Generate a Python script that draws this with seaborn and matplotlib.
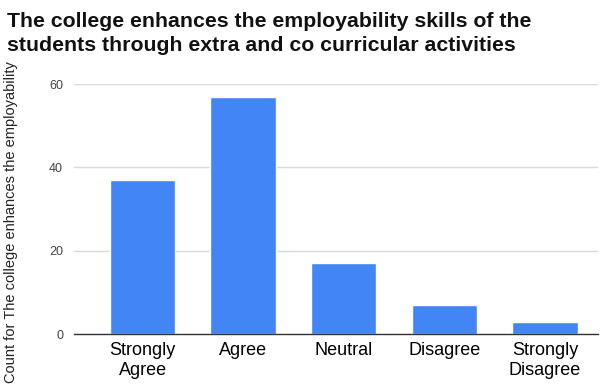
import matplotlib
matplotlib.use("Agg")
import matplotlib.pyplot as plt
import seaborn as sns
import pandas as pd

categories = ["Strongly\nAgree", "Agree", "Neutral", "Disagree", "Strongly\nDisagree"]
counts = [37, 57, 17, 7, 3]
yticks = [0, 20, 40, 60]

sns.set_style("white")
plt.rcParams['font.family'] = ['Liberation Sans', 'DejaVu Sans']

df = pd.DataFrame({"cat": categories, "count": counts})

fig = plt.figure(figsize=(6.08, 3.86), dpi=100)
ax = fig.add_axes([0.122, 0.1347, 0.862, 0.6473])
sns.barplot(data=df, x="cat", y="count", color="#4285F4", saturation=1, width=0.65, ax=ax, zorder=3)
ax.set_xlim(-0.68, 4.53)
ax.set_ylim(0, 60)
ax.set_yticks(yticks)
ax.set_yticklabels([str(t) for t in yticks], fontsize=9, color="#444444")
ax.tick_params(axis="y", length=0, pad=8)
ax.tick_params(axis="x", length=0, pad=6, labelsize=13, labelcolor="#000000")
ax.grid(axis="y", color="#d9d9d9", linewidth=1, zorder=0)
for s in ["top", "right", "left"]:
    ax.spines[s].set_visible(False)
ax.spines["bottom"].set_color("#333333")
ax.spines["bottom"].set_linewidth(1)
ax.spines["bottom"].set_zorder(4)
ax.set_xlabel("")
ax.set_ylabel("Count for The college enhances the employability", fontsize=10.5, color="#222222")
ax.yaxis.set_label_coords(-0.107, 0.45)

fig.text(0.012, 0.968, "The college enhances the employability skills of the\nstudents through extra and co curricular activities",
         fontsize=15.3, fontweight="bold", va="top", ha="left", color="#111111", linespacing=1.3)

fig.savefig("out.png", dpi=100)
